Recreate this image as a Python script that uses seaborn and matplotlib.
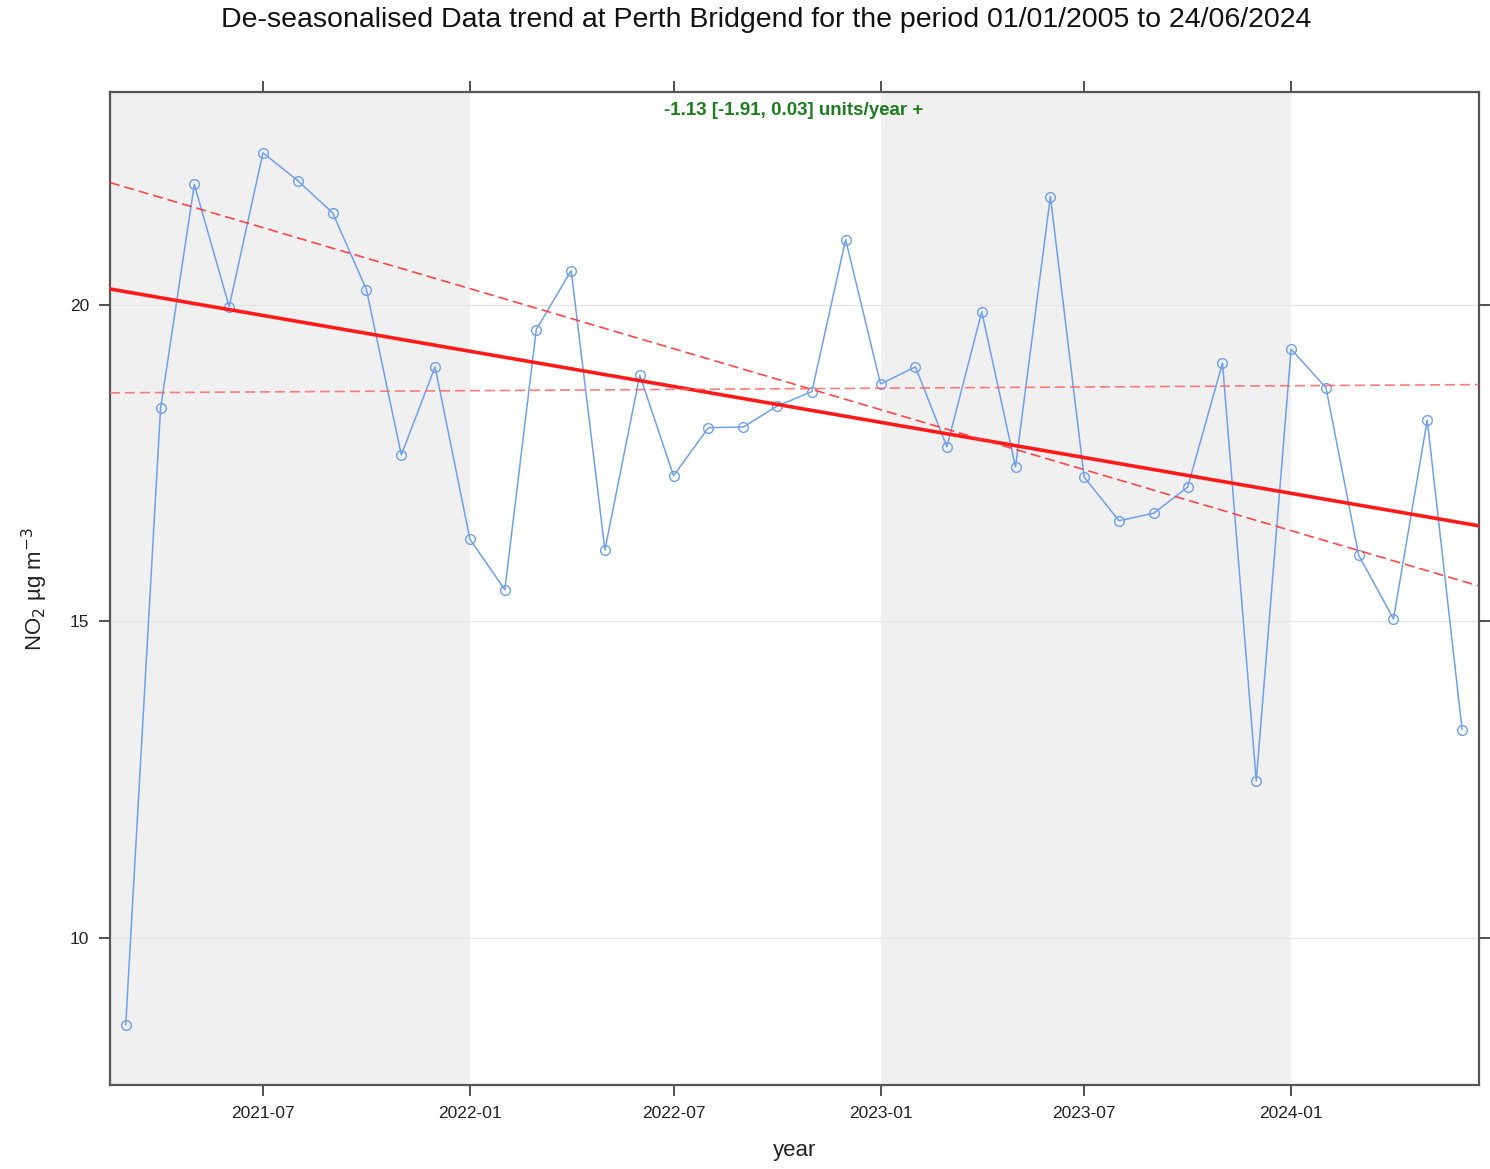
import numpy as np
import pandas as pd
import matplotlib
matplotlib.use("Agg")
import matplotlib.pyplot as plt
import matplotlib.dates as mdates
import seaborn as sns

# ---- data ----
months = pd.date_range("2021-03-01", "2024-06-01", freq="MS")
no2 = [8.63, 18.37, 21.90, 19.97, 22.40, 21.96, 21.45, 20.24, 17.63, 19.02,
       16.30, 15.50, 19.61, 20.54, 16.13, 18.89, 17.30, 18.06, 18.07, 18.40,
       18.63, 21.03, 18.75, 19.02, 17.76, 19.89, 17.44, 21.71, 17.28, 16.59,
       16.71, 17.12, 19.08, 12.48, 19.30, 18.69, 16.05, 15.04, 18.18, 13.29]

x_start = pd.Timestamp("2021-02-15")
x_end = pd.Timestamp("2024-06-16")
trend_ends = [20.25, 16.51]
upper_ends = [21.93, 15.56]
lower_ends = [18.61, 18.74]

tick_dates = ["2021-07-01", "2022-01-01", "2022-07-01", "2023-01-01", "2023-07-01", "2024-01-01"]
tick_labels = ["2021-07", "2022-01", "2022-07", "2023-01", "2023-07", "2024-01"]
shade_spans = [("2021-01-01", "2022-01-01"), ("2023-01-01", "2024-01-01")]
y_ticks = [10, 15, 20]

title = "De-seasonalised Data trend at Perth Bridgend for the period 01/01/2005 to 24/06/2024"
annot = "-1.13 [-1.91, 0.03] units/year +"

df = pd.DataFrame({"date": months, "no2": no2})

sns.set_style("white")
plt.rcParams['font.family'] = ['Liberation Sans', 'DejaVu Sans']

fig = plt.figure(figsize=(14.9, 11.69), dpi=100)
ax = fig.add_axes([0.0738, 0.0718, 0.9188, 0.8495])

for a, b in shade_spans:
    ax.axvspan(pd.Timestamp(a), pd.Timestamp(b), color="#f0f0f0", zorder=0, lw=0)

for yv in y_ticks:
    ax.axhline(yv, color="#e6e6e6", lw=1, zorder=0.5)

sns.lineplot(data=df, x="date", y="no2", ax=ax, color="#6f9fef", lw=1.1,
             marker="o", markersize=7, markerfacecolor="none",
             markeredgecolor="#6f9fef", markeredgewidth=1.0, zorder=3)

xs = [x_start, x_end]
ax.plot(xs, trend_ends, color="#ff1a1a", lw=2.6, zorder=4)
ax.plot(xs, upper_ends, color="#ff3333", lw=1.2, ls=(0, (6, 3)), alpha=0.9, zorder=4)
ax.plot(xs, lower_ends, color="#ff6666", lw=1.2, ls=(0, (6, 3)), alpha=0.85, zorder=4)

ax.set_xlim(x_start, x_end)
ax.set_ylim(7.68, 23.36)
ax.set_xticks([pd.Timestamp(d) for d in tick_dates])
ax.set_xticklabels(tick_labels)
ax.set_yticks(y_ticks)

ax.tick_params(axis="both", which="both", direction="out", length=8, width=1.2,
               color="#333333", labelsize=12.5, labelcolor="#222222",
               top=True, right=True, bottom=True, left=True,
               labeltop=False, labelright=False, pad=7)
for s in ax.spines.values():
    s.set_color("#555555")
    s.set_linewidth(1.6)
    s.set_visible(True)

ax.set_xlabel("year", fontsize=16, color="#222222", labelpad=14)
ax.set_ylabel(r"NO$_2$ µg m$^{-3}$", fontsize=16, color="#222222", labelpad=14)

ax.text(0.4995, 0.99, annot, transform=ax.transAxes, ha="center", va="top",
        color="#1e7d1e", fontsize=13.5, fontweight="bold")

fig.suptitle(title, fontsize=20.5, y=0.994, x=0.514, color="#111111")

fig.savefig("out.png", dpi=100)
